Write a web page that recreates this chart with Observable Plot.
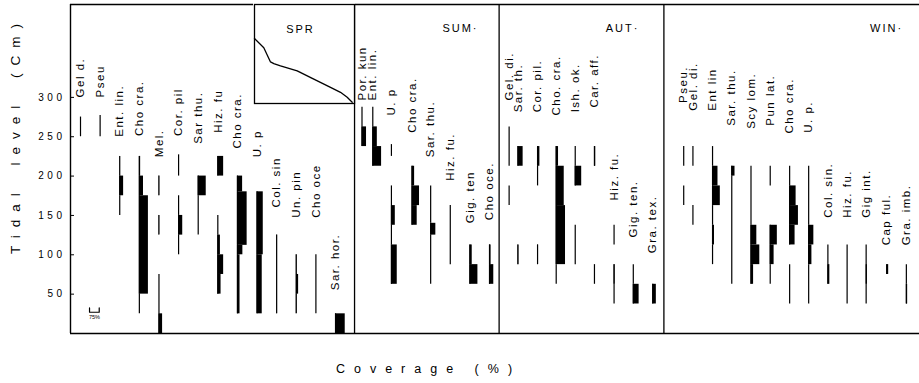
<!DOCTYPE html>
<html>
<head>
<meta charset="utf-8">
<script src="https://cdn.jsdelivr.net/npm/d3@7"></script>
<script src="https://cdn.jsdelivr.net/npm/@observablehq/plot@0.6"></script>
<style>
  body { margin: 0; background: #fff; }
  #wrap { position: relative; width: 919px; height: 383px; overflow: hidden; }
  #inset { position: absolute; left: 253px; top: 3px; }
  g[aria-label="y-axis tick label"] text { letter-spacing: 3.5px; }
</style>
</head>
<body>
<div id="wrap"><div id="main"></div><div id="inset"></div></div>
<script>
// ================= DATA =================
// Tidal levels (cm) of the y-axis ticks
const tickLevels = [50, 100, 150, 200, 250, 300];

// Each kite: list of [lowLevel, highLevel, coverage %]; coverage 0 = presence line only
const sprSpecies = ["Gel d.", "Pseu", "Ent. lin.", "Cho cra.", "Mel.", "Cor. pil", "Sar thu.",
                    "Hiz. fu", "Cho cra.", "U. p", "Col. sin", "Un. pin", "Cho oce", "Sar. hor."];
const sprKites = [
  [[250, 275, 0]],
  [[250, 277, 0]],
  [[150, 175, 0], [175, 200, 30], [200, 225, 3]],
  [[25, 50, 0], [50, 175, 70], [175, 200, 32], [200, 225, 10]],
  [[175, 200, 3], [125, 150, 3], [25, 75, 0], [0, 25, 28]],
  [[200, 227, 0], [100, 125, 0], [125, 150, 32], [150, 175, 0]],
  [[125, 175, 0], [175, 200, 62]],
  [[200, 225, 45], [125, 150, 0], [100, 125, 20], [75, 100, 45], [50, 75, 25]],
  [[180, 200, 40], [112, 180, 75], [100, 112, 42], [25, 100, 20]],
  [[100, 180, 48], [25, 100, 40]],
  [[25, 125, 4]],
  [[75, 100, 3], [50, 75, 18], [25, 50, 3]],
  [[25, 100, 0]],
  [[0, 25, 75]]
];

const sumSpecies = ["Por. kun", "Ent. lin.", "U. p", "Cho cra.", "Sar. thu.", "Hiz. fu.", "Gig. ten", "Cho oce."];
const sumKites = [
  [[262.5, 287.5, 0], [237.5, 262.5, 35]],
  [[262.5, 287.5, 0], [237.5, 262.5, 35], [212.5, 237.5, 68]],
  [[225, 240, 0], [162.5, 187.5, 0], [137.5, 162.5, 30], [112.5, 137.5, 0], [62.5, 112.5, 45]],
  [[187.5, 212.5, 20], [162.5, 187.5, 58], [137.5, 162.5, 40]],
  [[62.5, 125, 0], [125, 140, 40], [140, 187.5, 0]],
  [[87.5, 162.5, 0]],
  [[87.5, 112.5, 18], [62.5, 87.5, 62]],
  [[87.5, 112.5, 12], [62.5, 87.5, 33]]
];

const autSpecies = ["Gel. di.", "Sar. th.", "Cor. pil.", "Cho. cra.", "Ish. ok.", "Car. aff.", "Hiz. fu.", "Gig. ten.", "Gra. tex."];
const autKites = [
  [[212.5, 262.5, 0], [162.5, 187.5, 0]],
  [[212.5, 237.5, 40], [87.5, 112.5, 6]],
  [[187.5, 212.5, 0], [212.5, 237.5, 18], [87.5, 112.5, 6]],
  [[212.5, 237.5, 18], [162.5, 212.5, 62], [87.5, 162.5, 72], [62.5, 87.5, 0]],
  [[212.5, 237.5, 0], [187.5, 212.5, 50], [87.5, 137.5, 0]],
  [[212.5, 237.5, 10], [62.5, 87.5, 0]],
  [[112.5, 137.5, 0], [62.5, 87.5, 8], [37.5, 62.5, 0]],
  [[62.5, 87.5, 0], [37.5, 62.5, 45]],
  [[37.5, 62.5, 28]]
];

const winSpecies = ["Pseu.", "Gel. di.", "Ent lin", "Sar. thu.", "Scy lom.", "Pun lat.", "Cho cra.",
                    "U. p.", "Col. sin.", "Hiz. fu.", "Gig int.", "Cap ful.", "Gra. imb."];
const winKites = [
  [[212.5, 237.5, 0], [162.5, 187.5, 0]],
  [[212.5, 237.5, 0], [137.5, 162.5, 0]],
  [[212.5, 237.5, 0], [187.5, 212.5, 42], [162.5, 187.5, 60], [137.5, 162.5, 0], [112.5, 137.5, 15], [87.5, 112.5, 0]],
  [[200, 212.5, 25], [62.5, 200, 0]],
  [[137.5, 212.5, 0], [112.5, 137.5, 45], [87.5, 112.5, 68], [62.5, 87.5, 20]],
  [[187.5, 212.5, 0], [112.5, 137.5, 55], [87.5, 112.5, 30], [62.5, 87.5, 0]],
  [[187.5, 212.5, 0], [162.5, 187.5, 50], [137.5, 162.5, 68], [112.5, 137.5, 42], [37.5, 87.5, 0]],
  [[137.5, 212.5, 0], [112.5, 137.5, 40], [87.5, 112.5, 25], [37.5, 87.5, 0]],
  [[87.5, 112.5, 0], [62.5, 87.5, 15]],
  [[37.5, 112.5, 0]],
  [[87.5, 112.5, 0], [62.5, 87.5, 10], [37.5, 62.5, 0]],
  [[75, 87.5, 15]],
  [[62.5, 87.5, 0], [37.5, 62.5, 10]]
];

// Spring inset curve (relative units 0–100)
const sprCurveT     = [0, 9.3, 16, 19.3, 26, 42.7, 59.3, 76, 86, 92.7, 97.7];
const sprCurveValue = [65.7, 56.3, 42, 40.3, 38, 33, 24.7, 16.3, 11.3, 6.3, 1.3];

const seasonNames = ["SPR", "SUM·", "AUT·", "WIN·"];
const scaleBarCover = 75;   // % coverage represented by the scale bracket
const yTitle = "Tidal level (Cm)";
const xTitle = "Coverage (%)";

// ================= LAYOUT (column slots, label anchors) =================
const sprSlots = [0, 1, 2, 3, 4, 5, 6, 7, 8, 9, 10, 11, 12, 13];
const sumSlots = [14.35, 14.9, 15.85, 16.9, 17.85, 18.85, 19.85, 20.85];
const autSlots = [21.85, 22.3, 23.3, 24.25, 25.22, 26.2, 27.2, 28.18, 29.17];
const winSlots = [30.75, 31.22, 32.22, 33.2, 34.18, 35.16, 36.15, 37.12, 38.1, 39.08, 40.05, 41.1, 42.1];
const sprLabelAt = [300, 300, 250, 251, 224, 251, 241, 255, 235, 224, 160, 147, 147, 55];
const sumLabelAt = [296, 296, 277, 255, 224, 194, 140, 144];
const autLabelAt = [296, 281, 281, 277, 281, 287, 169, 122, 102];
const winLabelAt = [293, 283, 283, 264, 260, 264, 254, 255, 147, 147, 147, 112, 112];
const seasonBreaks = [13.97, 21.34, 29.74];
const seasonLabelSlot = [null, 19.37, 27.63, 41.09];
const xDomain = [-0.51, 42.77];
const yDomain = [0, 418];
const slotPerPct = 0.4945 / 75;   // bar width: 75 % coverage = ~half a column slot

// ================= BUILD =================
const groups = [
  {names: sprSpecies, kites: sprKites, slots: sprSlots, labelAt: sprLabelAt},
  {names: sumSpecies, kites: sumKites, slots: sumSlots, labelAt: sumLabelAt},
  {names: autSpecies, kites: autKites, slots: autSlots, labelAt: autLabelAt},
  {names: winSpecies, kites: winKites, slots: winSlots, labelAt: winLabelAt}
];
const lines = [], bars = [], labels = [];
for (const g of groups) {
  g.names.forEach((name, i) => {
    const x = g.slots[i];
    for (const [lo, hi, c] of g.kites[i]) {
      lines.push({x, lo, hi});
      if (c > 0) bars.push({x1: x, x2: x + c * slotPerPct, lo, hi});
    }
    labels.push({x, y: g.labelAt[i], name});
  });
}
const seasonLabels = seasonNames.map((s, i) => ({s, x: seasonLabelSlot[i]})).filter(d => d.x != null);

const sbX = 0.46, sbLo = 27, sbHi = 32.5;
const sbW = scaleBarCover * slotPerPct;
const bracket = [{x: sbX, y: sbHi}, {x: sbX, y: sbLo}, {x: sbX + sbW, y: sbLo}, {x: sbX + sbW, y: sbHi}];

const FONT = "'Liberation Sans', Arial, sans-serif";

const main = Plot.plot({
  width: 919, height: 383,
  marginLeft: 70, marginRight: 0, marginTop: 4, marginBottom: 50,
  style: {fontFamily: FONT, background: "white", overflow: "visible", color: "black"},
  x: {domain: xDomain, axis: null},
  y: {domain: yDomain},
  marks: [
    Plot.ruleY([yDomain[0], yDomain[1]], {stroke: "black", strokeWidth: 1.4}),
    Plot.ruleX([xDomain[0]], {stroke: "black", strokeWidth: 1.4}),
    Plot.ruleX(seasonBreaks, {stroke: "black", strokeWidth: 1.3}),
    Plot.axisY(tickLevels, {anchor: "left", tickSize: -4, tickPadding: 9, fontSize: 10, label: null, stroke: "black"}),
    Plot.rect(bars, {x1: "x1", x2: "x2", y1: "lo", y2: "hi", fill: "black"}),
    Plot.ruleX(lines, {x: "x", y1: "lo", y2: "hi", stroke: "black", strokeWidth: 1.2}),
    Plot.text(labels, {x: "x", y: "y", text: "name", rotate: -90, textAnchor: "start", fontSize: 11.5, fill: "black"}),
    Plot.text(seasonLabels, {x: "x", y: () => 387, text: "s", fontSize: 11, fill: "black"}),
    Plot.line(bracket, {x: "x", y: "y", stroke: "black", strokeWidth: 1.2}),
    Plot.text([scaleBarCover + "%"], {x: [sbX + sbW / 2], y: [21], fontSize: 5.5, fill: "black"}),
    Plot.text([yTitle], {frameAnchor: "left", y: [101], dx: -55, rotate: -90, textAnchor: "start", fontSize: 13.5, fill: "black"}),
    Plot.text([xTitle], {x: [17.74], frameAnchor: "bottom", dy: 39, fontSize: 12.5, fill: "black"})
  ]
});
d3.select(main).selectAll("text").each(function () {
  const t = this.textContent;
  if (t === yTitle) { this.style.letterSpacing = "8px"; this.style.wordSpacing = "8px"; }
  else if (t === xTitle) { this.style.letterSpacing = "9px"; }
  else if (seasonNames.includes(t)) { this.style.letterSpacing = "2px"; }
  else if (labels.some(d => d.name === t)) { this.style.letterSpacing = "1.5px"; }
});
document.getElementById("main").appendChild(main);

const inset = Plot.plot({
  width: 102, height: 101, margin: 1,
  style: {fontFamily: FONT, background: "white", overflow: "visible"},
  x: {domain: [0, 100], axis: null},
  y: {domain: [0, 100], axis: null},
  marks: [
    Plot.frame({stroke: "black", strokeWidth: 1.3}),
    Plot.line(sprCurveT.map((t, i) => ({t, v: sprCurveValue[i]})), {x: "t", y: "v", stroke: "black", strokeWidth: 1.3}),
    Plot.text([seasonNames[0]], {x: [46], y: [74.5], fontSize: 11, fill: "black"})
  ]
});
d3.select(inset).selectAll("text").style("letter-spacing", "2px");
document.getElementById("inset").appendChild(inset);
</script>
</body>
</html>
